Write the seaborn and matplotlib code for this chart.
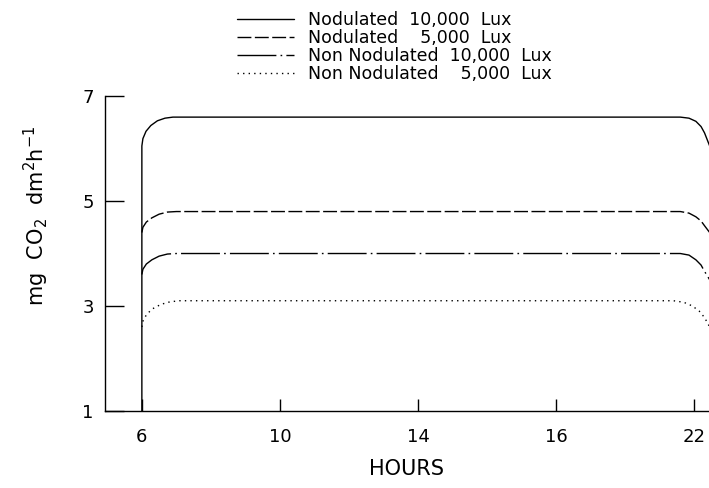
import numpy as np
import pandas as pd
import matplotlib
matplotlib.use("Agg")
import matplotlib.pyplot as plt
import seaborn as sns

# ==========================================
# DATA
# ==========================================
HOURS_NOD_10K = [6.0, 6.0, 6.03, 6.12, 6.26, 6.45, 6.67, 6.9, 21.6, 21.85, 22.05, 22.2, 22.3, 22.45]
CO2_NOD_10K = [1.0, 6.05, 6.19, 6.33, 6.44, 6.53, 6.58, 6.6, 6.6, 6.58, 6.52, 6.42, 6.3, 6.05]

HOURS_NOD_5K = [6.0, 6.03, 6.13, 6.29, 6.5, 6.74, 7.0, 21.6, 21.85, 22.05, 22.2, 22.3, 22.45]
CO2_NOD_5K = [4.4, 4.5, 4.6, 4.68, 4.75, 4.79, 4.8, 4.8, 4.77, 4.7, 4.62, 4.53, 4.4]

HOURS_NON_10K = [6.0, 6.03, 6.13, 6.29, 6.5, 6.74, 7.0, 21.6, 21.85, 22.05, 22.2, 22.3, 22.45]
CO2_NON_10K = [3.6, 3.7, 3.8, 3.88, 3.95, 3.99, 4.0, 4.0, 3.97, 3.88, 3.78, 3.66, 3.5]

HOURS_NON_5K = [6.0, 6.04, 6.15, 6.32, 6.55, 6.82, 7.1, 21.4, 21.7, 21.95, 22.15, 22.3, 22.45]
CO2_NON_5K = [2.6, 2.73, 2.85, 2.95, 3.03, 3.08, 3.1, 3.1, 3.07, 3.0, 2.9, 2.78, 2.6]

LABELS = ["Nodulated  10,000  Lux",
          "Nodulated    5,000  Lux",
          "Non Nodulated  10,000  Lux",
          "Non Nodulated    5,000  Lux"]

X_TICKS = [6, 10, 14, 18, 22]
X_TICK_LABELS = ["6", "10", "14", "16", "22"]
Y_TICKS = [1, 3, 5, 7]

# ==========================================
# STYLE
# ==========================================
LINE_STYLES = ["-", (0, (10, 2.5)), (0, (28, 3, 1.2, 3)), (0, (1, 3))]


def main():
    sns.set_style("white")
    plt.rcParams["font.family"] = ["DejaVu Sans"]
    plt.rcParams["text.color"] = "black"
    plt.rcParams["axes.labelcolor"] = "black"

    fig = plt.figure(figsize=(7.09, 4.88), dpi=100)
    ax = fig.add_axes([0.148, 0.158, 0.852, 0.645])

    series = [(HOURS_NOD_10K, CO2_NOD_10K), (HOURS_NOD_5K, CO2_NOD_5K),
              (HOURS_NON_10K, CO2_NON_10K), (HOURS_NON_5K, CO2_NON_5K)]

    for (hrs, co2), label, ls in zip(series, LABELS, LINE_STYLES):
        df = pd.DataFrame({"hours": hrs, "co2": co2})
        sns.lineplot(data=df, x="hours", y="co2", ax=ax, estimator=None, sort=False,
                     color="black", linewidth=1.0, linestyle=ls, label=label)

    ax.set_xlim(4.93, 22.43)
    ax.set_ylim(1, 7)
    ax.set_xticks(X_TICKS)
    ax.set_xticklabels(X_TICK_LABELS)
    ax.set_yticks(Y_TICKS)

    for side in ["top", "right"]:
        ax.spines[side].set_visible(False)
    for side in ["left", "bottom"]:
        ax.spines[side].set_color("black")
        ax.spines[side].set_linewidth(1.0)

    ax.tick_params(axis="x", bottom=True, direction="in", length=9, width=1.0, pad=12,
                   labelsize=13, colors="black")
    ax.tick_params(axis="y", left=True, direction="in", length=14, width=1.0, pad=8,
                   labelsize=13, colors="black")

    ax.set_xlabel("HOURS", fontsize=15, labelpad=10)
    ax.set_ylabel(r"mg  CO$_2$  dm$^2$h$^{-1}$", fontsize=15)
    ax.yaxis.set_label_coords(-0.09, 0.62)

    ax.get_legend().remove()
    handles, labels = ax.get_legend_handles_labels()
    fig.legend(handles, labels, loc="upper left", bbox_to_anchor=(0.322, 0.995),
               frameon=False, fontsize=12.5, labelspacing=0.0, handlelength=3.3,
               handletextpad=0.8, borderpad=0.0, labelcolor="black")

    fig.savefig("out.png", dpi=100)
    plt.close(fig)


if __name__ == "__main__":
    main()
